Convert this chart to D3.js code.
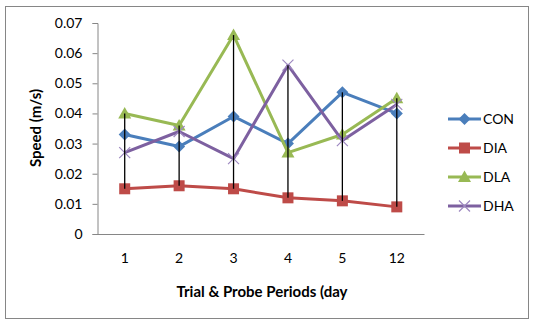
<!DOCTYPE html>
<html>
<head>
<meta charset="utf-8">
<script src="https://cdn.jsdelivr.net/npm/d3@7"></script>
<style>
  body { margin: 0; background: #fff; }
  text { font-family: Lato, "Open Sans", sans-serif; fill: #000; }
</style>
</head>
<body>
<div id="chart"></div>
<script>
// chart data
const categories = ['1', '2', '3', '4', '5', '12']
const seriesNames = ['CON', 'DIA', 'DLA', 'DHA']
const conValues = [0.033, 0.029, 0.039, 0.030, 0.047, 0.040]
const diaValues = [0.015, 0.016, 0.015, 0.012, 0.011, 0.009]
const dlaValues = [0.040, 0.036, 0.066, 0.027, 0.033, 0.045]
const dhaValues = [0.027, 0.034, 0.025, 0.056, 0.031, 0.043]
const yTicks = [0, 0.01, 0.02, 0.03, 0.04, 0.05, 0.06, 0.07]

const colors = ['#4a7ebb', '#be4b48', '#98b954', '#7d60a0']
const markers = ['diamond', 'square', 'triangle', 'cross']

const allSeries = [conValues, diaValues, dlaValues, dhaValues].map((values, i) => ({
    name: seriesNames[i],
    color: colors[i],
    marker: markers[i],
    values: values
}))

const width = 535
const height = 324

const svg = d3.select('#chart')
    .append('svg')
    .attr('width', width)
    .attr('height', height)

// outer chart border
svg.append('rect')
    .attr('x', 5.5)
    .attr('y', 6.5)
    .attr('width', 523)
    .attr('height', 312)
    .attr('fill', '#fff')
    .attr('stroke', '#868686')
    .attr('stroke-width', 1)

const plot = { left: 97.5, right: 424, top: 23, bottom: 234 }

const xScale = d3.scaleBand()
    .domain(categories)
    .range([plot.left, plot.right])

const yScale = d3.scaleLinear()
    .domain([0, 0.07])
    .range([plot.bottom, plot.top])

const xc = c => xScale(c) + xScale.bandwidth() / 2

// y axis
const yAxis = d3.axisLeft(yScale)
    .tickValues(yTicks)
    .tickSize(5)
    .tickPadding(10)
    .tickFormat(d => d === 0 ? '0' : d3.format('.2f')(d))

const yGroup = svg.append('g')
    .attr('transform', `translate(${plot.left},0)`)
    .call(yAxis)
yGroup.selectAll('line, path').attr('stroke', '#868686')
yGroup.selectAll('text').attr('font-size', '14px')

// x axis, no tick marks
const xAxis = d3.axisBottom(xScale)
    .tickSize(0)
    .tickPadding(19)

const xGroup = svg.append('g')
    .attr('transform', `translate(0,${plot.bottom})`)
    .call(xAxis)
xGroup.select('.domain').attr('stroke', '#868686')
xGroup.selectAll('text').attr('font-size', '14px')

// series lines
const line = d3.line()
    .x((d, i) => xc(categories[i]))
    .y(d => yScale(d))

const drawMarker = (g, type, color, x, y) => {
    if (type === 'diamond') {
        g.append('path')
            .attr('d', `M${x},${y - 6}L${x + 6},${y}L${x},${y + 6}L${x - 6},${y}Z`)
            .attr('fill', color)
    } else if (type === 'square') {
        g.append('rect')
            .attr('x', x - 5.5).attr('y', y - 5.5)
            .attr('width', 11).attr('height', 11)
            .attr('fill', color)
    } else if (type === 'triangle') {
        g.append('path')
            .attr('d', `M${x},${y - 6.5}L${x + 6.5},${y + 5}L${x - 6.5},${y + 5}Z`)
            .attr('fill', color)
    } else {
        g.append('path')
            .attr('d', `M${x - 5.5},${y - 5.5}L${x + 5.5},${y + 5.5}M${x + 5.5},${y - 5.5}L${x - 5.5},${y + 5.5}`)
            .attr('stroke', '#9d88c0')
            .attr('stroke-width', 1.2)
            .attr('fill', 'none')
    }
}

allSeries.forEach(s => {
    const g = svg.append('g')
    g.append('path')
        .datum(s.values)
        .attr('d', line)
        .attr('fill', 'none')
        .attr('stroke', s.color)
        .attr('stroke-width', 3)
        .attr('stroke-linejoin', 'round')
    s.values.forEach((v, i) => drawMarker(g, s.marker, s.color, xc(categories[i]), yScale(v)))
})

// high-low lines between max and min of each category
svg.selectAll('.hilo')
    .data(categories)
    .enter()
    .append('line')
        .attr('class', 'hilo')
        .attr('x1', d => xc(d))
        .attr('x2', d => xc(d))
        .attr('y1', (d, i) => yScale(d3.max(allSeries, s => s.values[i])))
        .attr('y2', (d, i) => yScale(d3.min(allSeries, s => s.values[i])))
        .attr('stroke', '#000')
        .attr('stroke-width', 1.3)

// axis titles
svg.append('text')
    .attr('x', 262)
    .attr('y', 297)
    .attr('text-anchor', 'middle')
    .attr('font-size', '15px')
    .attr('font-weight', 'bold')
    .text('Trial & Probe Periods (day')

svg.append('text')
    .attr('transform', 'translate(41,128) rotate(-90)')
    .attr('text-anchor', 'middle')
    .attr('font-size', '15px')
    .attr('font-weight', 'bold')
    .text('Speed (m/s)')

// legend
const legend = svg.selectAll('.legend')
    .data(allSeries)
    .enter()
    .append('g')
        .attr('class', 'legend')
        .attr('transform', (d, i) => `translate(0,${119 + i * 29})`)

legend.append('line')
    .attr('x1', 448).attr('x2', 481)
    .attr('y1', 0).attr('y2', 0)
    .attr('stroke', d => d.color)
    .attr('stroke-width', 3)

legend.each(function (d) { drawMarker(d3.select(this), d.marker, d.color, 464.5, 0) })

legend.append('text')
    .attr('x', 483)
    .attr('y', 0)
    .attr('dy', '0.35em')
    .attr('font-size', '14px')
    .text(d => d.name)
</script>
</body>
</html>
